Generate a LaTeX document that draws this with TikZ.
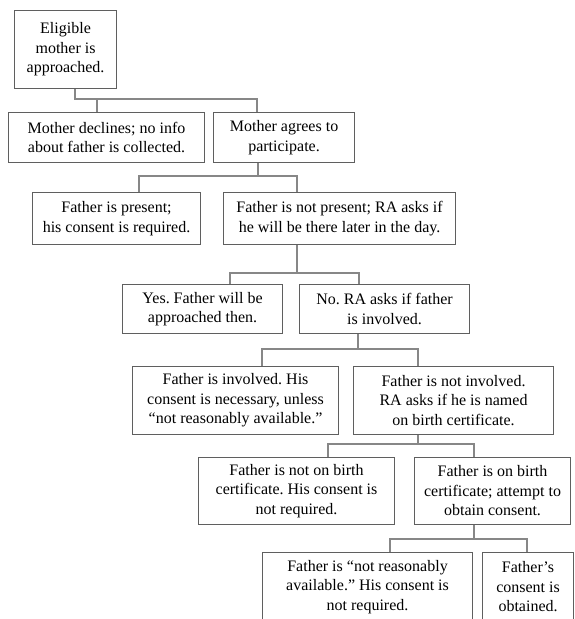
\documentclass[tikz,border=0pt]{standalone}
\usepackage{fontspec}
\setmainfont{Liberation Serif}
\frenchspacing
\definecolor{boxgray}{RGB}{95,95,95}
\definecolor{linegray}{RGB}{135,135,135}
\begin{document}
\begin{tikzpicture}[x=1pt,y=-1pt,
  box/.style={draw=boxgray, line width=1.1pt, anchor=north west, inner sep=0pt,
    align=center, font=\fontsize{16}{19.5}\selectfont},
  conn/.style={draw=linegray, line width=1.1pt}]
\path[use as bounding box] (0,0) rectangle (575,619);
\clip (0,0) rectangle (575,619);
% boxes
\node[box, minimum width=102pt, minimum height=78pt] (b1) at (14,10) {Eligible\\mother is\\approached.};
\node[box, minimum width=196pt, minimum height=50pt] (b2) at (8,112) {Mother declines; no info\\about father is collected.};
\node[box, minimum width=141pt, minimum height=50pt] (b3) at (213,112) {Mother agrees to\\participate.};
\node[box, minimum width=168pt, minimum height=52pt] (b4) at (32,192) {Father is present;\\his consent is required.};
\node[box, minimum width=232pt, minimum height=52pt] (b5) at (223,192) {Father is not present; RA asks if\\he will be there later in the day.};
\node[box, minimum width=160pt, minimum height=49pt] (b6) at (122,284) {Yes. Father will be\\approached then.};
\node[box, minimum width=170pt, minimum height=49pt] (b7) at (299,284) {No. RA asks if father\\is involved.};
\node[box, minimum width=206pt, minimum height=68pt] (b8) at (132,366) {Father is involved. His\\consent is necessary, unless\\``not reasonably available.''};
\node[box, minimum width=200pt, minimum height=68pt] (b9) at (353,366) {Father is not involved.\\RA asks if he is named\\on birth certificate.};
\node[box, minimum width=196pt, minimum height=67pt] (b10) at (198,457) {Father is not on birth\\certificate. His consent is\\not required.};
\node[box, minimum width=156pt, minimum height=67pt] (b11) at (414,457) {Father is on birth\\certificate; attempt to\\obtain consent.};
\node[box, minimum width=210pt, minimum height=69pt] (b12) at (262,552) {Father is ``not reasonably\\available.'' His consent is\\not required.};
\node[box, minimum width=91pt, minimum height=69pt] (b13) at (482,552) {Father's\\consent is\\obtained.};
% connector 1
\coordinate (s1) at (75,99); \coordinate (l1) at (97,99); \coordinate (r1) at (257,99);
\draw[conn] (b1.south -| s1) -- (s1) -- (r1) -- (b3.north -| r1);
\draw[conn] (l1) -- (b2.north -| l1);
% connector 2
\coordinate (s2) at (258,176); \coordinate (l2) at (139,176); \coordinate (r2) at (297,176);
\draw[conn] (b3.south -| s2) -- (s2);
\draw[conn] (b4.north -| l2) -- (l2) -- (r2) -- (b5.north -| r2);
% connector 3
\coordinate (s3) at (297,273); \coordinate (l3) at (230,273); \coordinate (r3) at (359,273);
\draw[conn] (b5.south -| s3) -- (s3);
\draw[conn] (b6.north -| l3) -- (l3) -- (r3) -- (b7.north -| r3);
% connector 4
\coordinate (s4) at (358,349); \coordinate (l4) at (262,349); \coordinate (r4) at (418,349);
\draw[conn] (b7.south -| s4) -- (s4);
\draw[conn] (b8.north -| l4) -- (l4) -- (r4) -- (b9.north -| r4);
% connector 5
\coordinate (s5) at (418,444); \coordinate (l5) at (328,444); \coordinate (r5) at (474,444);
\draw[conn] (b9.south -| s5) -- (s5);
\draw[conn] (b10.north -| l5) -- (l5) -- (r5) -- (b11.north -| r5);
% connector 6
\coordinate (s6) at (474,539); \coordinate (l6) at (390,539); \coordinate (r6) at (527,539);
\draw[conn] (b11.south -| s6) -- (s6);
\draw[conn] (b12.north -| l6) -- (l6) -- (r6) -- (b13.north -| r6);
\end{tikzpicture}
\end{document}
